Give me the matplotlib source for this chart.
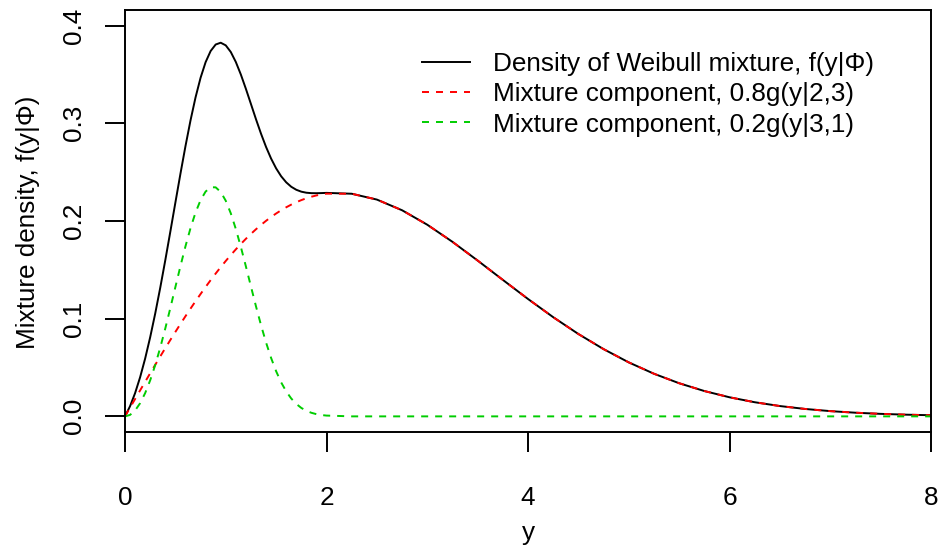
import matplotlib
matplotlib.use("Agg")
import matplotlib.pyplot as plt

# values
y_vals = [0.0, 0.05, 0.1, 0.15, 0.2, 0.25, 0.3, 0.35, 0.4, 0.45, 0.5,
          0.55, 0.6, 0.65, 0.7, 0.75, 0.8, 0.85, 0.9, 0.95, 1.0,
          1.05, 1.1, 1.15, 1.2, 1.25, 1.3, 1.35, 1.4, 1.45, 1.5,
          1.55, 1.6, 1.65, 1.7, 1.75, 1.8, 1.85, 1.9, 1.95, 2.0,
          2.25, 2.5, 2.75, 3.0, 3.25, 3.5, 3.75, 4.0, 4.25, 4.5, 4.75, 5.0,
          5.25, 5.5, 5.75, 6.0, 6.25, 6.5, 6.75, 7.0, 7.25, 7.5, 7.75, 8.0]

comp1 = [0.0, 0.00889, 0.01776, 0.02660, 0.03540, 0.04414, 0.05280, 0.06138,
         0.06986, 0.07822, 0.08645, 0.09455, 0.10249, 0.11026, 0.11785,
         0.12525, 0.13246, 0.13945, 0.14623, 0.15277, 0.15908, 0.16514,
         0.17096, 0.17651, 0.18179, 0.18681, 0.19154, 0.19601, 0.20018,
         0.20408, 0.20768, 0.21100, 0.21403, 0.21676, 0.21922, 0.22138,
         0.22326, 0.22485, 0.22617, 0.22721, 0.22798,
         0.22791, 0.22193, 0.21100, 0.19620, 0.17869, 0.15953, 0.13974,
         0.12018, 0.10155, 0.08432, 0.06885, 0.05527, 0.04365, 0.03393,
         0.02595, 0.01954, 0.01448, 0.01057, 0.00760, 0.00538, 0.00375,
         0.00257, 0.00174, 0.00116]

comp2 = [0.0, 0.00150, 0.00599, 0.01345, 0.02381, 0.03692, 0.05256, 0.07042,
         0.09005, 0.11092, 0.13237, 0.15368, 0.17404, 0.19262, 0.20863,
         0.22134, 0.23013, 0.23456, 0.23445, 0.22974, 0.22073, 0.20787,
         0.19182, 0.17340, 0.15347, 0.13298, 0.11268, 0.09338, 0.07563,
         0.05983, 0.04620, 0.03478, 0.02556, 0.01829, 0.01275, 0.00864,
         0.00570, 0.00366, 0.00227, 0.00137, 0.00081,
         0.0, 0.0, 0.0, 0.0, 0.0, 0.0, 0.0, 0.0, 0.0, 0.0, 0.0, 0.0,
         0.0, 0.0, 0.0, 0.0, 0.0, 0.0, 0.0, 0.0, 0.0, 0.0, 0.0, 0.0]

mixture = [0.0, 0.01039, 0.02375, 0.04005, 0.05921, 0.08106, 0.10536, 0.13180,
           0.15991, 0.18914, 0.21882, 0.24823, 0.27653, 0.30288, 0.32648,
           0.34659, 0.36259, 0.37401, 0.38068, 0.38251, 0.37981, 0.37301,
           0.36278, 0.34991, 0.33526, 0.31979, 0.30422, 0.28939, 0.27581,
           0.26391, 0.25388, 0.24578, 0.23959, 0.23505, 0.23197, 0.23002,
           0.22896, 0.22851, 0.22844, 0.22858, 0.22879,
           0.22791, 0.22193, 0.21100, 0.19620, 0.17869, 0.15953, 0.13974,
           0.12018, 0.10155, 0.08432, 0.06885, 0.05527, 0.04365, 0.03393,
           0.02595, 0.01954, 0.01448, 0.01057, 0.00760, 0.00538, 0.00375,
           0.00257, 0.00174, 0.00116]

labels = ["Density of Weibull mixture, f(y|\u03a6)",
          "Mixture component, 0.8g(y|2,3)",
          "Mixture component, 0.2g(y|3,1)"]

plt.rcParams['font.family'] = ['Liberation Sans', 'DejaVu Sans']
plt.rcParams['font.size'] = 18.8

fig = plt.figure(figsize=(9.38, 5.45), dpi=100)
ax = fig.add_axes([125 / 938, 113 / 545, 806 / 938, 422 / 545])

lw = 1.4
ax.plot(y_vals, mixture, color='black', lw=lw, label=labels[0])
ax.plot(y_vals, comp1, color='red', lw=lw, dashes=(3.6, 3.6), label=labels[1])
ax.plot(y_vals, comp2, color='#00CD00', lw=lw, dashes=(3.6, 3.6), label=labels[2])

ax.set_xlim(0, 8)
ax.set_ylim(-0.016, 0.416)
ax.set_xticks([0, 2, 4, 6, 8])
ax.set_yticks([0.0, 0.1, 0.2, 0.3, 0.4])
ax.set_yticklabels(["0.0", "0.1", "0.2", "0.3", "0.4"], rotation=90, va='center')
ax.tick_params(axis='both', direction='out', length=14.4, width=lw, color='black')
ax.tick_params(axis='x', pad=24.5)
ax.tick_params(axis='y', pad=14)
for s in ax.spines.values():
    s.set_linewidth(lw)

# axis titles placed like the R margins
fig.text(528 / 938, 1 - 540 / 545, "y", ha='center', va='baseline')
fig.text(35 / 938, 1 - 222 / 545, "Mixture density, f(y|\u03a6)", rotation=90,
         rotation_mode='anchor', ha='center', va='baseline')

ax.legend(loc='upper left', bbox_to_anchor=(422 / 938, 1 - 52 / 545),
          bbox_transform=fig.transFigure, frameon=False, handlelength=1.85,
          handletextpad=0.88, labelspacing=0.24, borderpad=0, borderaxespad=0)

fig.savefig("out.png", dpi=100)
